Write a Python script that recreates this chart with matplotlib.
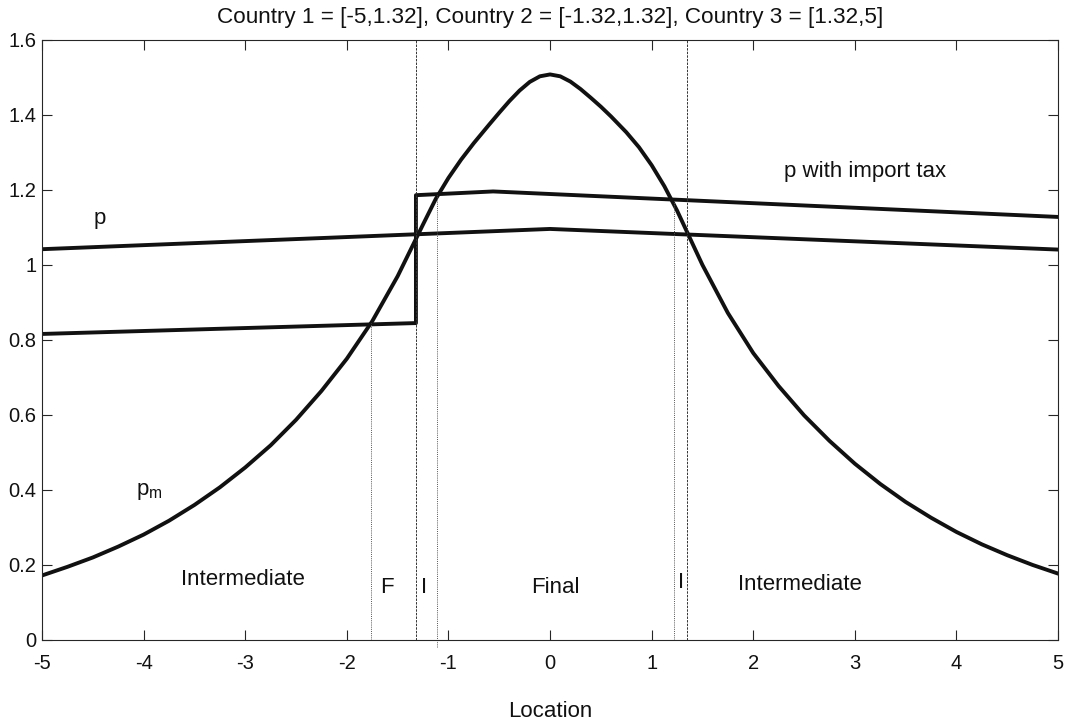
"""Regional price curves with and without an import tax."""

import matplotlib

matplotlib.use("Agg")

import matplotlib.pyplot as plt
from matplotlib.ticker import FuncFormatter

# p_m curve
pm_x = [-5, -4.75, -4.5, -4.25, -4, -3.75, -3.5, -3.25, -3, -2.75, -2.5, -2.25, -2, -1.75,
        -1.5, -1.25, -1.125, -1, -0.875, -0.75, -0.6, -0.5, -0.4, -0.3, -0.2, -0.1, 0,
        0.1, 0.2, 0.3, 0.4, 0.5, 0.6, 0.75, 0.875, 1, 1.125, 1.25, 1.5, 1.75,
        2, 2.25, 2.5, 2.75, 3, 3.25, 3.5, 3.75, 4, 4.25, 4.5, 4.75, 5]
pm_y = [0.172, 0.195, 0.220, 0.249, 0.281, 0.318, 0.360, 0.407, 0.460, 0.519, 0.587, 0.664, 0.750, 0.850,
        0.970, 1.108, 1.176, 1.232, 1.281, 1.325, 1.374, 1.406, 1.437, 1.465, 1.488, 1.503, 1.508,
        1.503, 1.489, 1.469, 1.446, 1.422, 1.396, 1.354, 1.314, 1.266, 1.210, 1.145, 1.0, 0.872,
        0.765, 0.677, 0.599, 0.531, 0.470, 0.416, 0.368, 0.326, 0.288, 0.255, 0.226, 0.200, 0.177]

# p without the tax
p_x = [-5, 0, 5]
p_y = [1.042, 1.096, 1.041]

# p with import tax (jump at the Country 2 border)
tax_x = [-5, -1.32, -1.32, -0.56, 5]
tax_y = [0.816, 0.845, 1.186, 1.196, 1.128]

# borders (dashed) and regime switches (dotted)
border_x = [-1.32, 1.35]
switch_x = [-1.765, -1.11, 1.22]
switch_top = [0.845, 1.187, 1.170]
switch_bottom = [0.0, -0.02, 0.0]

region_labels = ["Intermediate", "F", "I", "Final", "I", "Intermediate"]
region_x = [-3.02, -1.61, -1.24, 0.05, 1.29, 2.46]
region_y = [0.16, 0.14, 0.14, 0.14, 0.152, 0.147]

title = "Country 1 = [-5,1.32], Country 2 = [-1.32,1.32], Country 3 = [1.32,5]"

plt.rcParams["font.family"] = ["Liberation Sans", "DejaVu Sans"]
plt.rcParams["mathtext.fontset"] = "custom"
plt.rcParams["mathtext.rm"] = "Liberation Sans"
plt.rcParams["axes.unicode_minus"] = False

fig = plt.figure(figsize=(10.78, 7.26), dpi=100)
ax = fig.add_axes([0.039, 0.1185, 0.9425, 0.8265])

ink = "#111111"
ax.plot(pm_x, pm_y, color=ink, linewidth=2.8)
ax.plot(p_x, p_y, color=ink, linewidth=2.8)
ax.plot(tax_x, tax_y, color=ink, linewidth=2.8)

for xb in border_x:
    ax.plot([xb, xb], [0, 1.6], color="#333333", linewidth=0.7, linestyle=(0, (2.5, 1.2)))
for xs, top, bot in zip(switch_x, switch_top, switch_bottom):
    ax.plot([xs, xs], [bot, top], color="#555555", linewidth=0.7, linestyle=(0, (1, 1.2)),
            clip_on=False)

text_kw = dict(fontsize=16, color=ink)
ax.text(-4.43, 1.125, "p", ha="center", va="center", **text_kw)
ax.text(3.1, 1.248, "p with import tax", ha="center", va="center", **text_kw)
ax.text(-3.94, 0.395, r"p$_\mathregular{m}$", ha="center", va="center", **text_kw)
for lab, lx, ly in zip(region_labels, region_x, region_y):
    ax.text(lx, ly, lab, ha="center", va="center", **text_kw)

ax.set_xlim(-5, 5)
ax.set_ylim(0, 1.6)
ax.set_xticks(range(-5, 6))
ax.set_yticks([0, 0.2, 0.4, 0.6, 0.8, 1.0, 1.2, 1.4, 1.6])
ax.yaxis.set_major_formatter(FuncFormatter(lambda v, _: f"{v:g}"))
ax.tick_params(direction="in", length=7, width=0.8, top=True, right=True,
               labelsize=14.5, colors="#262626", labelcolor=ink)
ax.tick_params(axis="x", pad=10)
ax.tick_params(axis="y", pad=4)
for spine in ax.spines.values():
    spine.set_linewidth(0.8)
    spine.set_color("#262626")

ax.set_xlabel("Location", fontsize=16, color=ink, labelpad=20)
ax.set_title(title, fontsize=16.2, color=ink, pad=12)

fig.savefig("out.png", dpi=100)
